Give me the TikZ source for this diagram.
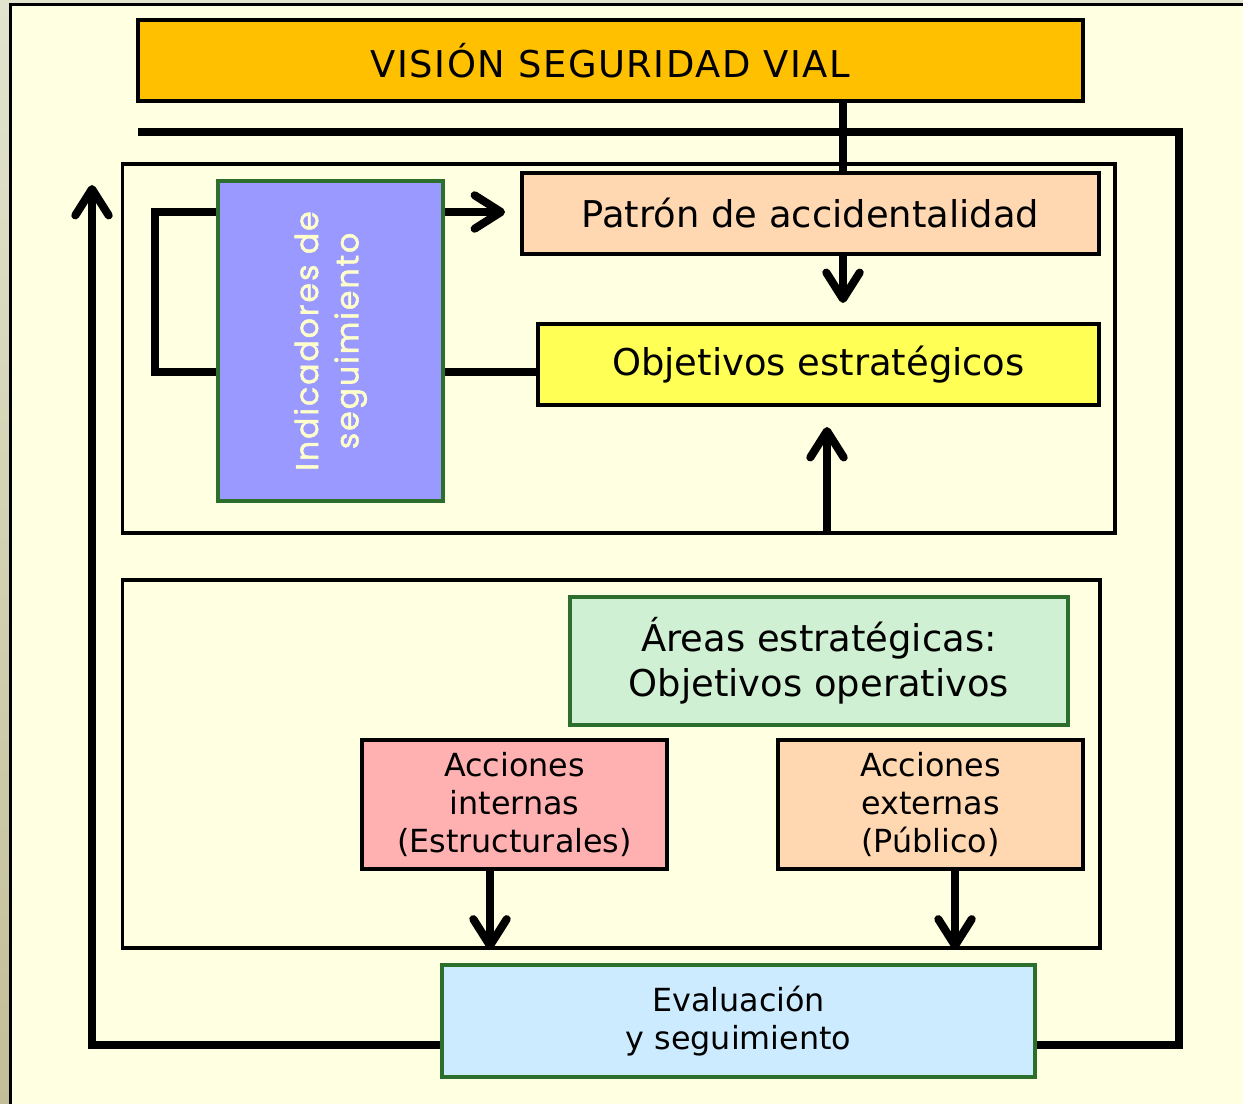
\documentclass[tikz,border=0pt]{standalone}
\usepackage{fontspec}
\setmainfont{DejaVu Sans}
\newfontfamily\indfont[LetterSpace=6, FakeBold=1.4]{Poppins}
\usetikzlibrary{arrows.meta}

\definecolor{slidebg}{HTML}{FFFFE2}
\definecolor{stripA}{HTML}{E2E4CE}
\definecolor{stripB}{HTML}{C3BE97}
\definecolor{visioncol}{HTML}{FFC000}
\definecolor{peach}{HTML}{FFD8B2}
\definecolor{yellowbox}{HTML}{FFFF55}
\definecolor{lilac}{HTML}{9999FF}
\definecolor{mint}{HTML}{CFF0D2}
\definecolor{rosa}{HTML}{FFB0B0}
\definecolor{skyblue}{HTML}{CCEBFF}
\definecolor{darkgreen}{HTML}{2C6E2C}
\definecolor{paleyellow}{HTML}{FFFFCC}

\tikzset{
  box/.style={draw=black, line width=2.3pt, align=center, inner sep=0pt},
  greenbox/.style={box, draw=darkgreen},
  frame/.style={draw=black, line width=1.8pt, inner sep=0pt},
  conn/.style={line width=4.6pt},
  arr/.style={conn, -{Straight Barb[round, length=15pt, width=19pt]}},
  big/.style={font=\fontsize{21}{25.5}\selectfont},
  small/.style={font=\fontsize{18.1}{21.8}\selectfont}
}

\begin{document}
\begin{tikzpicture}[x=0.02cm, y=-0.02cm]
\useasboundingbox (0,0) rectangle (1243,1104);

% slide background and its border
\shade[top color=stripA, bottom color=stripB] (0,0) rectangle (1243,1104);
\fill[slidebg] (10,4) rectangle (1243,1104);
\draw[line width=2pt] (10.5,1104) -- (10.5,4.5) -- (1243,4.5);

% helper coordinates
\coordinate (vx) at (843,0);
\coordinate (ux) at (827,0);
\coordinate (ix) at (490,0);
\coordinate (ex) at (955,0);
\coordinate (ytop) at (0,212);
\coordinate (ybot) at (0,372);
\coordinate (ylow) at (0,1045);
\coordinate (fbstart) at (138,132);
\coordinate (fbcorner) at (1179,1045);
\coordinate (uptip) at (92,185);
\coordinate (loopx) at (155,0);

% frames
\node[frame, minimum width=19.86cm, minimum height=7.38cm] (upper) at (618.5,348.5) {};
\node[frame, minimum width=19.56cm, minimum height=7.36cm] (lower) at (611,764) {};

% boxes
\node[box, fill=visioncol, big, minimum width=18.9cm, minimum height=1.62cm] (vision) at (610.5,60.5) {\addfontfeatures{LetterSpace=4}VISIÓN SEGURIDAD VIAL};
\node[box, fill=peach, big, minimum width=11.54cm, minimum height=1.62cm] (patron) at (810.5,213.5) {Patrón de accidentalidad};
\node[box, fill=yellowbox, big, minimum width=11.22cm, minimum height=1.62cm] (objetivos) at (818.5,364.5) {\raisebox{-3pt}{Objetivos estratégicos}};
\node[greenbox, fill=lilac, minimum width=4.5cm, minimum height=6.4cm] (indicadores) at (330.5,341) {};
\node[text=paleyellow, rotate=90, align=center, font=\indfont\fontsize{18}{23}\selectfont] at (indicadores.center) {Indicadores de\\seguimiento};
\node[greenbox, fill=mint, big, minimum width=9.96cm, minimum height=2.56cm] (areas) at (819,661) {Áreas estratégicas:\\Objetivos operativos};
\node[box, fill=rosa, small, minimum width=6.1cm, minimum height=2.58cm] (internas) at (514.5,804.5) {Acciones\\internas\\(Estructurales)};
\node[box, fill=peach, small, minimum width=6.1cm, minimum height=2.58cm] (externas) at (930.5,804.5) {Acciones\\externas\\(Público)};
\node[greenbox, fill=skyblue, small, minimum width=11.86cm, minimum height=2.24cm] (evaluacion) at (738.5,1021) {Evaluación\\y seguimiento};

% connectors
\draw[conn] (vision.south -| vx) -- (patron.north -| vx);
\draw[arr, shorten >=0.38cm] (patron.south -| vx) -- (objetivos.north -| vx);
\draw[arr, shorten >=0.4cm] (upper.south -| ux) -- (objetivos.south -| ux);
\draw[arr, shorten >=0.3cm] (indicadores.east |- ytop) -- (patron.west |- ytop);
\draw[conn] (indicadores.east |- ybot) -- (objetivos.west |- ybot);
\draw[conn] (indicadores.west |- ytop) -| (loopx |- ybot) -- (indicadores.west |- ybot);
\draw[arr] (internas.south -| ix) -- (lower.south -| ix);
\draw[arr] (externas.south -| ex) -- (lower.south -| ex);

% feedback loop
\draw[conn] (fbstart) -| (fbcorner) -- (evaluacion.east |- ylow);
\draw[arr] (evaluacion.west |- ylow) -| (uptip);

\end{tikzpicture}
\end{document}
